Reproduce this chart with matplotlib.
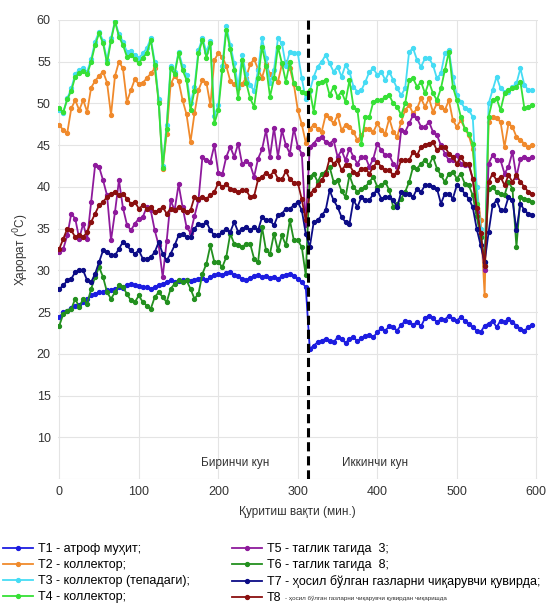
import numpy as np
import matplotlib
matplotlib.use('Agg')
import matplotlib.pyplot as plt

plt.rcParams['font.family'] = ['Liberation Sans', 'DejaVu Sans']

# Вақт (мин.), 5 минут қадам: 1-кун 0..310, 2-кун 315..595
minutes = list(range(0, 600, 5))

t1 = [24.4, 25.0, 25.2, 25.5, 25.8, 25.9, 26.2, 26.6, 27.0, 27.2,
      27.4, 27.4, 27.6, 27.7, 27.8, 28.0, 27.9, 28.2, 28.4, 28.2,
      28.1, 28.0, 28.0, 27.8, 28.0, 28.2, 28.4, 28.6, 28.8, 28.6,
      28.7, 28.8, 28.9, 28.7, 28.8, 29.0, 29.1, 28.8, 29.2, 29.4,
      29.6, 29.5, 29.7, 29.8, 29.5, 29.3, 29.0, 28.8, 29.1, 29.3,
      29.4, 29.2, 29.3, 29.1, 29.2, 29.0, 29.3, 29.5, 29.6, 29.3,
      29.0, 28.6, 28.0,
      20.6, 21.0, 21.4, 21.6, 21.8, 21.5, 21.4, 22.0, 21.8, 21.3,
      21.8, 22.0, 21.5, 21.9, 22.1, 22.3, 22.0, 22.6, 23.1, 22.8,
      23.3, 23.2, 22.8, 23.5, 23.9, 23.8, 23.5, 23.8, 23.3, 24.3,
      24.6, 24.3, 23.8, 24.2, 24.1, 24.6, 24.2, 24.0, 24.4, 24.0,
      23.6, 23.2, 22.8, 22.6, 23.4, 23.6, 24.0, 23.2, 24.0, 23.8,
      24.2, 23.8, 23.4, 23.0, 22.8, 23.2, 23.5]

t2 = [47.4, 46.8, 46.5, 49.4, 50.4, 49.2, 50.4, 49.0, 51.9, 52.7,
      53.3, 53.8, 52.5, 48.6, 53.3, 55.0, 54.2, 50.2, 51.6, 52.9,
      52.3, 52.5, 53.0, 53.6, 54.2, 50.4, 42.2, 46.4, 52.3, 53.3,
      52.7, 50.4, 48.7, 45.4, 48.8, 51.6, 52.8, 52.5, 49.8, 55.2,
      56.0, 55.6, 54.5, 52.7, 52.3, 51.9, 52.3, 53.1, 54.7, 55.3,
      54.1, 53.1, 54.7, 53.5, 53.1, 52.6, 54.7, 55.0, 54.2, 52.3,
      49.2, 47.5, 45.3,
      47.0, 47.4, 47.0, 46.6, 48.6, 48.2, 47.6, 48.6, 46.8, 47.4,
      47.2, 46.6, 45.6, 46.2, 47.0, 47.0, 46.6, 47.6, 46.8, 46.4,
      48.2, 46.6, 46.0, 47.8, 49.2, 49.8, 48.8, 49.4, 50.6, 49.6,
      50.6, 49.0, 50.0, 49.6, 49.2, 50.4, 48.0, 47.2, 48.0, 47.0,
      46.2, 44.5, 40.0, 36.0, 27.0, 47.8, 48.4, 48.2, 47.8, 44.8,
      47.6, 47.2, 46.0, 45.6, 45.2, 44.8, 45.0]

t3 = [49.2, 48.9, 50.6, 51.8, 53.5, 54.0, 54.2, 53.8, 55.3, 57.4,
      58.6, 57.5, 55.2, 57.8, 59.9, 58.3, 57.4, 56.2, 56.3, 55.8,
      55.4, 56.0, 56.6, 57.8, 55.0, 50.5, 42.5, 47.4, 54.5, 53.8,
      56.2, 54.5, 53.4, 50.0, 52.0, 56.4, 57.8, 56.2, 57.5, 48.5,
      49.8, 54.5, 59.3, 57.0, 54.8, 52.0, 55.8, 53.5, 52.2, 51.5,
      54.0, 57.8, 55.5, 52.5, 54.0, 57.8, 57.2, 54.5, 56.2, 56.0,
      56.0, 53.0, 50.5,
      51.5, 53.2, 54.4, 55.0, 55.8, 54.8, 53.8, 54.4, 53.2, 54.6,
      53.8, 52.0, 51.4, 51.6, 52.6, 53.8, 54.2, 53.4, 53.8, 52.8,
      53.8, 52.8, 51.8, 51.0, 51.8, 56.2, 56.6, 55.2, 54.4, 55.4,
      55.4, 54.6, 53.0, 53.6, 56.0, 56.4, 53.2, 51.0, 50.2, 49.4,
      49.2, 48.4, 40.0, 35.0, 30.5, 50.0, 51.6, 53.2, 51.8, 51.4,
      51.4, 52.0, 52.4, 54.2, 52.2, 51.6, 51.6]

t4 = [49.4, 49.0, 50.5, 51.5, 53.2, 53.6, 53.9, 53.5, 55.0, 57.0,
      58.4, 57.2, 54.8, 57.5, 59.8, 58.0, 57.0, 55.6, 55.8, 55.3,
      54.8, 55.5, 56.0, 57.6, 54.6, 50.0, 42.3, 47.0, 54.2, 53.5,
      56.0, 54.0, 52.8, 49.2, 51.5, 56.0, 57.6, 55.5, 57.2, 47.6,
      49.2, 54.0, 58.8, 56.5, 54.0, 50.6, 55.2, 52.5, 50.6, 49.6,
      53.0, 56.8, 54.5, 50.8, 53.0, 56.8, 54.8, 52.6, 55.0, 52.4,
      51.8, 51.4, 51.2,
      51.6, 49.0, 52.4, 52.6, 52.8, 51.0, 52.0, 50.8, 51.4, 50.2,
      52.8, 49.6, 49.2, 45.2, 48.4, 48.4, 50.2, 50.4, 50.4, 50.8,
      51.0, 50.0, 49.6, 48.6, 50.0, 52.8, 53.0, 52.0, 52.6, 51.2,
      52.6, 51.2, 50.4, 51.8, 54.0, 56.2, 52.0, 50.4, 48.4, 47.0,
      46.4, 45.2, 38.0, 34.0, 30.5, 48.4, 50.4, 50.6, 49.2, 51.2,
      51.6, 51.8, 52.0, 52.6, 49.4, 49.6, 49.8]

t5 = [32.2, 32.6, 34.2, 36.8, 36.2, 33.8, 35.6, 33.8, 38.2, 42.6,
      42.4, 40.8, 39.0, 33.6, 37.0, 40.8, 37.5, 35.5, 34.8, 35.6,
      36.2, 36.4, 37.6, 37.2, 34.8, 33.0, 29.2, 33.5, 38.4, 37.2,
      40.3, 37.6, 35.2, 34.5, 36.5, 38.4, 43.6, 43.2, 43.0, 45.0,
      41.7, 41.5, 43.6, 44.8, 43.6, 45.2, 42.7, 43.1, 42.7, 41.2,
      43.4, 44.5, 46.8, 43.6, 47.1, 43.6, 46.8, 45.0, 44.0, 47.0,
      44.8, 44.0, 35.5,
      44.8, 45.2, 45.8, 46.0, 45.4, 45.2, 45.6, 43.6, 44.4, 43.2,
      44.6, 43.6, 42.8, 43.6, 43.6, 42.4, 43.4, 45.2, 44.4, 43.8,
      43.8, 42.8, 42.4, 46.8, 46.6, 47.6, 48.6, 48.2, 47.2, 47.2,
      47.8, 46.6, 46.2, 45.0, 44.0, 43.2, 43.2, 43.8, 42.8, 42.6,
      42.6, 41.0, 37.0, 34.0, 30.0, 42.8, 43.8, 43.2, 43.2, 41.6,
      42.4, 44.2, 41.2, 43.4, 43.6, 43.4, 43.6]

t6 = [23.4, 24.8, 25.2, 25.4, 26.6, 25.6, 26.6, 26.0, 27.8, 29.2,
      30.4, 29.2, 27.4, 26.6, 27.4, 28.2, 28.0, 27.2, 26.4, 26.2,
      27.0, 26.2, 25.8, 25.4, 26.8, 27.4, 26.8, 26.2, 27.8, 28.4,
      28.8, 28.6, 28.8, 27.8, 26.6, 27.2, 29.6, 30.8, 33.0, 31.0,
      31.0, 30.4, 31.6, 34.4, 33.2, 33.0, 32.8, 33.2, 33.2, 31.4,
      31.0, 35.2, 32.4, 32.0, 34.4, 32.4, 34.2, 33.0, 36.0, 33.6,
      33.6, 32.8, 29.4,
      41.2, 41.6, 40.6, 41.6, 41.8, 42.4, 40.6, 40.8, 39.5, 38.8,
      41.4, 40.0, 39.4, 39.8, 40.0, 40.6, 41.2, 40.0, 40.2, 40.6,
      39.6, 37.6, 38.0, 38.6, 39.4, 40.6, 42.4, 42.2, 42.8, 43.2,
      42.6, 43.6, 42.2, 41.4, 40.6, 41.6, 41.8, 41.0, 41.6, 40.4,
      40.2, 39.0, 36.5, 34.0, 31.0, 39.8, 40.0, 39.4, 39.2, 39.0,
      40.6, 39.8, 32.8, 38.8, 38.6, 38.4, 38.2]

t7 = [27.8, 28.2, 28.8, 29.0, 29.8, 30.0, 30.0, 28.8, 28.6, 29.6,
      31.0, 32.4, 32.2, 31.8, 31.8, 32.6, 33.4, 33.0, 32.4, 32.0,
      32.4, 31.4, 31.4, 31.6, 32.2, 33.4, 32.0, 31.2, 32.0, 33.0,
      34.2, 34.4, 34.0, 34.0, 35.0, 35.6, 35.4, 35.8, 34.8, 34.2,
      34.2, 34.6, 35.0, 34.6, 35.8, 34.6, 35.0, 35.2, 34.8, 35.2,
      34.8, 36.4, 36.0, 36.0, 35.4, 36.6, 36.8, 37.4, 37.4, 37.8,
      38.2, 37.2, 34.4,
      32.8, 35.8, 36.0, 36.6, 37.2, 39.6, 38.4, 37.6, 36.4, 35.8,
      35.6, 38.4, 37.6, 38.8, 38.4, 38.4, 39.2, 39.6, 38.6, 38.8,
      38.8, 38.4, 37.6, 39.4, 39.2, 39.2, 38.8, 39.8, 39.4, 40.2,
      40.2, 40.0, 39.8, 38.0, 39.2, 39.2, 38.6, 40.2, 39.8, 39.2,
      38.6, 37.6, 35.0, 33.0, 31.0, 34.6, 37.8, 38.4, 37.2, 37.2,
      38.8, 38.4, 34.8, 38.0, 37.2, 36.8, 36.6]

t8 = [32.6, 33.8, 35.0, 34.8, 34.0, 34.2, 34.0, 34.6, 35.8, 36.8,
      37.8, 38.2, 38.8, 39.2, 39.4, 39.0, 39.2, 38.6, 38.0, 38.2,
      37.4, 37.8, 37.4, 37.6, 37.0, 37.2, 37.6, 36.8, 37.4, 37.2,
      37.6, 37.2, 37.0, 37.2, 38.8, 38.6, 38.8, 38.6, 39.0, 39.4,
      40.5, 40.0, 40.3, 39.8, 39.6, 39.4, 39.6, 39.6, 38.8, 38.9,
      40.9, 41.2, 41.7, 41.3, 41.9, 41.0, 40.9, 41.9, 40.9, 40.5,
      40.5, 38.5, 36.0,
      39.2, 39.6, 40.2, 40.8, 41.6, 43.4, 42.8, 43.2, 42.0, 42.6,
      42.6, 41.8, 41.6, 42.2, 42.2, 41.6, 42.4, 43.0, 42.4, 42.0,
      42.0, 41.4, 41.8, 43.2, 43.2, 43.2, 44.2, 43.8, 44.8, 45.0,
      45.2, 45.4, 44.4, 44.8, 44.8, 44.0, 43.6, 42.8, 43.6, 42.8,
      42.8, 41.0, 37.5, 34.5, 30.5, 40.6, 41.6, 40.8, 41.2, 40.2,
      41.4, 40.6, 41.4, 40.6, 40.0, 39.4, 39.2]

series = [t1, t2, t3, t4, t5, t6, t7, t8]
colors = ['#1c1ce0', '#f08a2c', '#46dcf4', '#36e036',
          '#8e1a9c', '#23901f', '#0c0c86', '#8a0f0f']
labels = ['T1 - атроф муҳит;', 'T2 - коллектор;', 'T3 - коллектор (тепадаги);',
          'T4 - коллектор;', 'T5 - таглик тагида  3;', 'T6 - таглик тагида  8;',
          'T7 - ҳосил бўлган газларни чиқарувчи қувирда;', 'T8']
t8_tail = '- ҳосил бўлган газларни чиқарувчи қувирдан чиқаришда'
day_split = 312.5

fig = plt.figure(figsize=(5.5, 6.05), dpi=100)
ax = fig.add_axes([0.105, 0.208, 0.873, 0.759])

for vals, c, lab in zip(series, colors, labels):
    ax.plot(minutes, vals, '-o', color=c, lw=1.3, ms=2.8, label=lab)

ax.axvline(day_split, color='black', ls=(0, (3, 1.6)), lw=2.2)
ax.text(221, 6.9, 'Биринчи кун', ha='center', va='center', fontsize=8.5, color='#333333')
ax.text(397, 6.9, 'Иккинчи кун', ha='center', va='center', fontsize=8.5, color='#333333')

ax.set_xlim(-2, 602)
ax.set_ylim(5, 60)
ax.set_xticks(range(0, 601, 100))
ax.set_yticks(range(10, 61, 5))
ax.axhline(5, color='#e4e4e4', lw=0.8, zorder=0)
ax.grid(True, color='#e4e4e4', lw=0.8)
ax.set_axisbelow(True)
for s in ax.spines.values():
    s.set_visible(False)
ax.tick_params(length=0, labelsize=9, colors='#333333', pad=5)
ax.set_xlabel('Қуритиш вақти (мин.)', fontsize=8.5, color='#333333', labelpad=6)
ax.set_ylabel('Ҳарорат ($^{0}$C)', fontsize=8.5, color='#333333', labelpad=4)

leg = fig.legend(loc='upper left', bbox_to_anchor=(0.005, 0.102), ncol=2,
                 frameon=False, fontsize=9, handlelength=2.4, handletextpad=0.4,
                 columnspacing=3.4, labelspacing=0.32, borderaxespad=0, borderpad=0)

fig.canvas.draw()
bb = leg.get_texts()[7].get_window_extent()
fig.text((bb.x1 + 3) / fig.bbox.width, (bb.y0 + bb.y1) / 2 / fig.bbox.height,
         t8_tail, fontsize=4.5, va='center', ha='left', color='#333333')

fig.savefig('out.png', dpi=100)
